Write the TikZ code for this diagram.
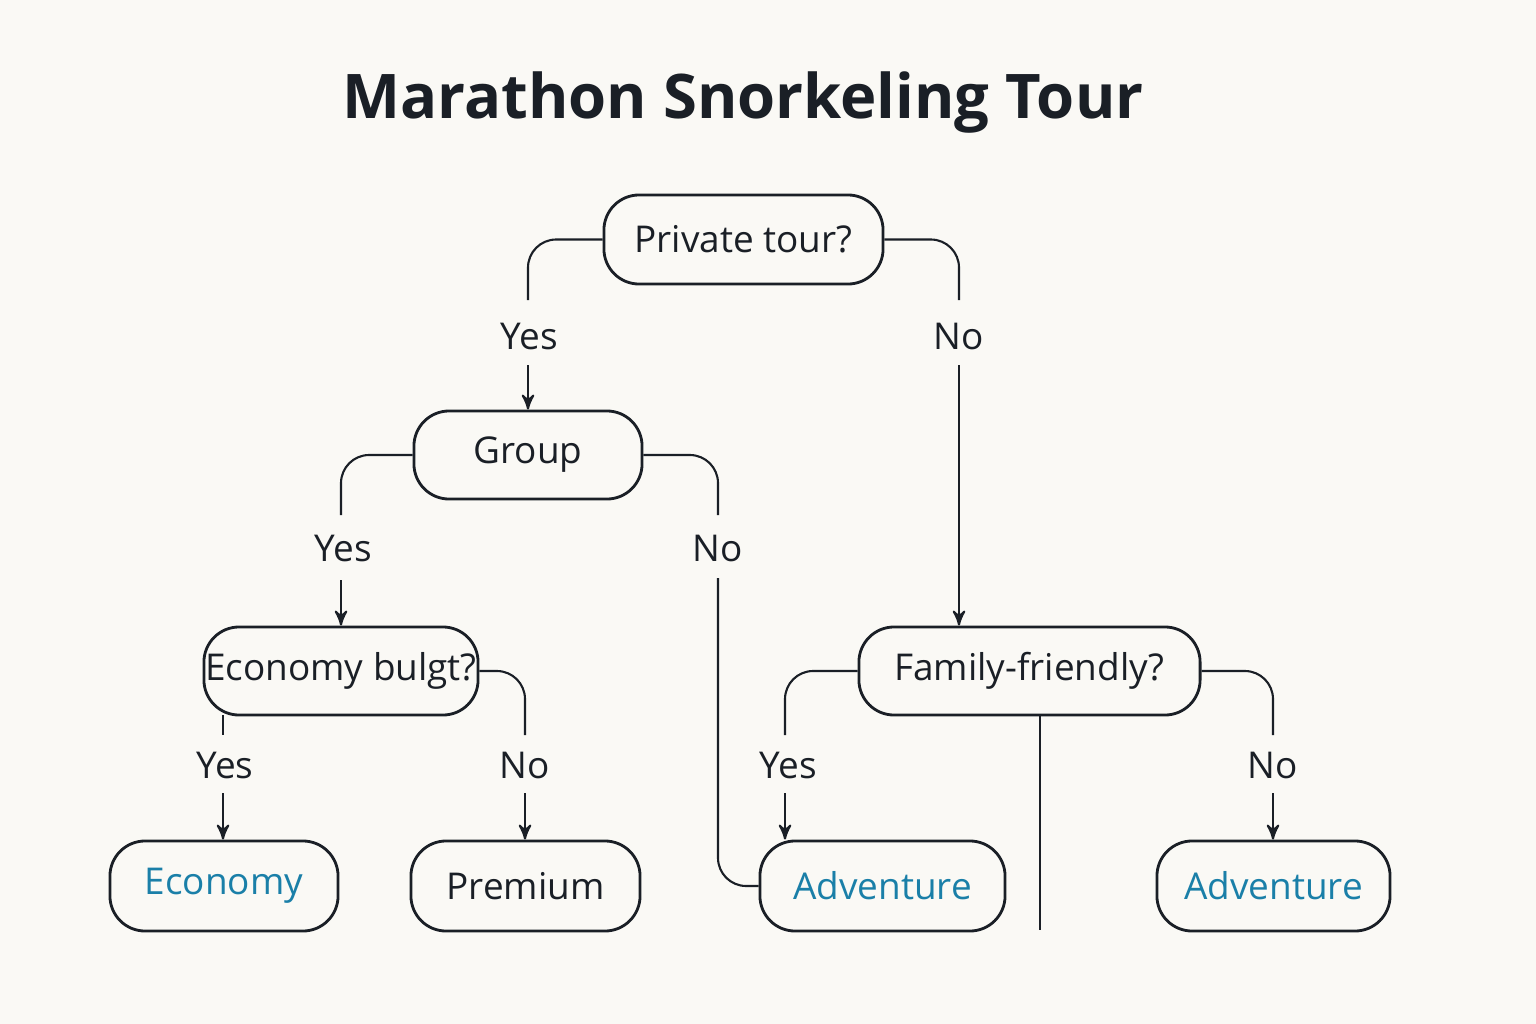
\documentclass[tikz,border=0pt]{standalone}
\usepackage{fontspec}
\setmainfont{Open Sans}
\usetikzlibrary{arrows,positioning,calc}
\definecolor{bgcol}{HTML}{FAF9F5}
\definecolor{leafblue}{HTML}{1A7FA8}
\definecolor{inkcol}{HTML}{1A1F26}

\begin{document}
\begin{tikzpicture}
[x=0.01cm,y=-0.01cm,
box/.style={draw=inkcol,thick,rounded corners=10pt,inner sep=0pt,align=center,font=\fontsize{10.5}{12}\selectfont,text=inkcol},
leaf/.style={box,text=leafblue},
lbl/.style={font=\fontsize{10.5}{12}\selectfont,text=inkcol},
link/.style={draw=inkcol,semithick,rounded corners=8pt},
arr/.style={link,->,>=stealth'}]

\fill[bgcol] (0,0) rectangle (1536,1024);
\useasboundingbox (0,0) rectangle (1536,1024);

\node (title) [font=\fontsize{17.5}{20}\selectfont\bfseries,text=inkcol] at (743,103) {Marathon Snorkeling Tour};

\node (priv) [box,minimum width=2.79cm,minimum height=0.89cm] at (743.5,239.5) {Private tour?};
\node (grp) [box,minimum width=2.28cm,minimum height=0.88cm] at (528,455) {Group};
\node (econq) [box,minimum width=2.74cm,minimum height=0.88cm] at (341,671) {Economy bulgt?};
\node (fam) [box,minimum width=3.41cm,minimum height=0.88cm] at (1029.5,671) {Family-friendly?};
\node (econ) [leaf,minimum width=2.28cm,minimum height=0.9cm] at (224,886) {Economy};
\node (prem) [box,minimum width=2.29cm,minimum height=0.9cm] at (525.5,886) {Premium};
\node (adv1) [leaf,minimum width=2.45cm,minimum height=0.9cm] at (882.5,886) {Adventure};
\node (adv2) [leaf,minimum width=2.33cm,minimum height=0.9cm] at (1273.5,886) {Adventure};

% branch labels
\node (py) [lbl] at (529,336) {Yes};
\node (pn) [lbl] at (959,336) {No};
\node (gy) [lbl] at (343,548) {Yes};
\node (gn) [lbl] at (718,548) {No};
\node (ey) [lbl] at (225,765) {Yes};
\node (en) [lbl] at (525,765) {No};
\node (fy) [lbl] at (788,765) {Yes};
\node (fn) [lbl] at (1273,765) {No};

\draw[link] (priv.west) -| (528,300);
\draw[arr] (528,365) -- (528,365 |- grp.north);
\draw[link] (priv.east) -| (959,300);
\draw[arr] (959,365) -- (959,365 |- fam.north);

\draw[link] (grp.west) -| (341,515);
\draw[arr] (341,580) -- (341,580 |- econq.north);
\draw[link] (grp.east) -| (718,515);
\draw[link] (718,578) |- (adv1.west);

\draw[link] (223,715) -- (223,735);
\draw[arr] (223,793) -- (223,793 |- econ.north);
\draw[link] (econq.east) -| (525,735);
\draw[arr] (525,793) -- (525,793 |- prem.north);

\draw[link] (fam.west) -| (785,735);
\draw[arr] (785,793) -- (785,793 |- adv1.north);
\draw[link] (fam.east) -| (1273,735);
\draw[arr] (1273,793) -- (1273,793 |- adv2.north);
\draw[link] (1040,715) -- (1040,930);
\end{tikzpicture}
\end{document}
